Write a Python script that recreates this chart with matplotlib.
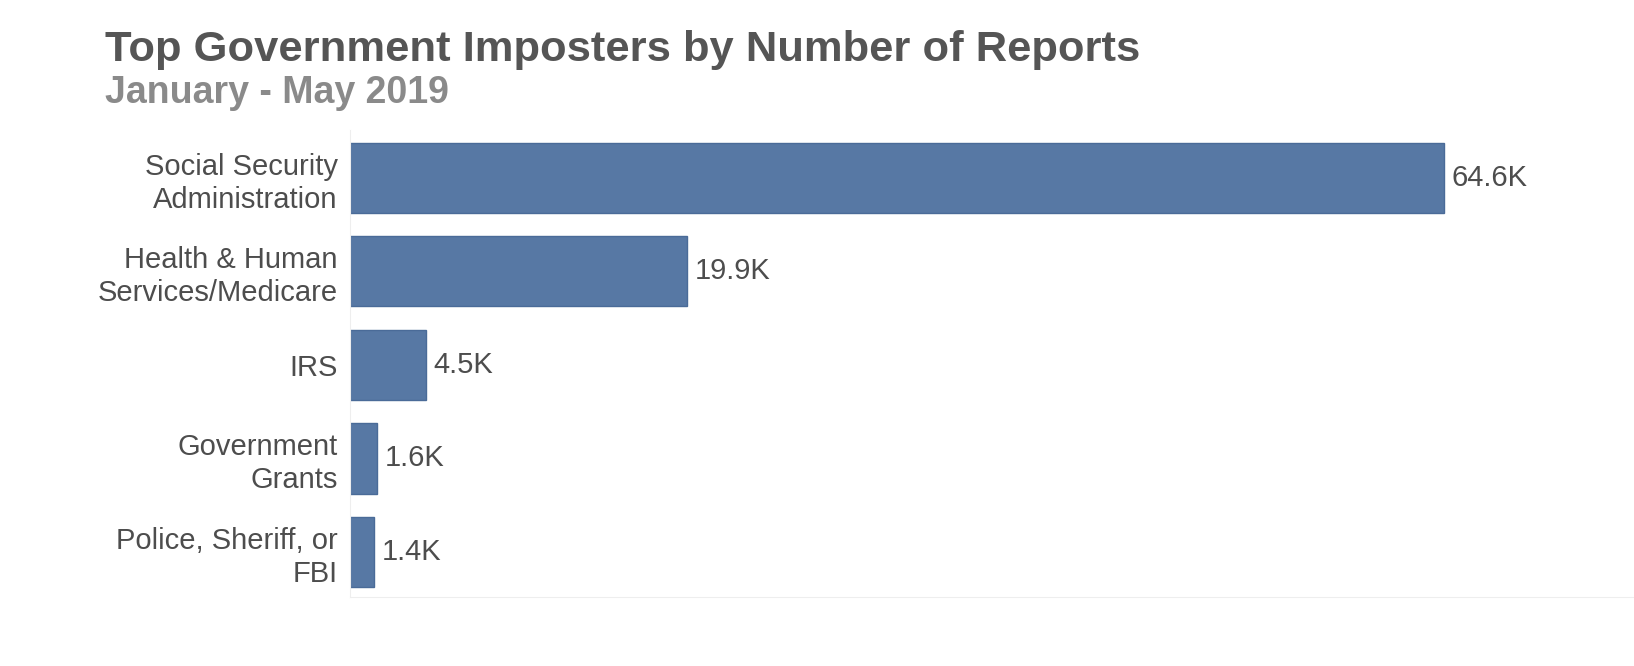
import matplotlib.pyplot as plt

# data (thousands of reports)
categories = ['Social Security\nAdministration', 'Health & Human\nServices/Medicare',
              'IRS', 'Government\nGrants', 'Police, Sheriff, or\nFBI']
reports_k = [64.6, 19.9, 4.5, 1.6, 1.4]
value_labels = ['64.6K', '19.9K', '4.5K', '1.6K', '1.4K']

plt.rcParams['font.family'] = ['Liberation Sans', 'DejaVu Sans']

fig = plt.figure(figsize=(16.34, 6.66), dpi=100)
ax = fig.add_axes([0.2142, 0.1036, 0.7858, 0.7012])

bar_color = '#5778a4'
pos = list(range(len(categories)))
ax.barh(pos, reports_k, height=0.75, color=bar_color, edgecolor='#4a6b98', linewidth=1)

for p, v, lab in zip(pos, reports_k, value_labels):
    ax.text(v + 0.45, p, lab, va='center', ha='left', fontsize=21, color='#4d4d4d')

ax.set_yticks(pos)
ax.set_yticklabels(categories, fontsize=21, color='#4d4d4d', linespacing=1.22)
ax.tick_params(axis='y', length=0, pad=9)
ax.set_xticks([])
ax.set_xlim(0, 75.8)
ax.set_ylim(4.48, -0.51)

for s in ['top', 'right']:
    ax.spines[s].set_visible(False)
ax.spines['left'].set_color('#eeeeee')
ax.spines['bottom'].set_color('#eeeeee')

fig.text(105 / 1634, 1 - 61 / 666, 'Top Government Imposters by Number of Reports',
         fontsize=31.3, fontweight='bold', color='#555555', va='baseline', ha='left')
fig.text(105 / 1634, 1 - 103 / 666, 'January - May 2019',
         fontsize=27, fontweight='bold', color='#8a8a8a', va='baseline', ha='left')

fig.savefig('out.png', dpi=100)
